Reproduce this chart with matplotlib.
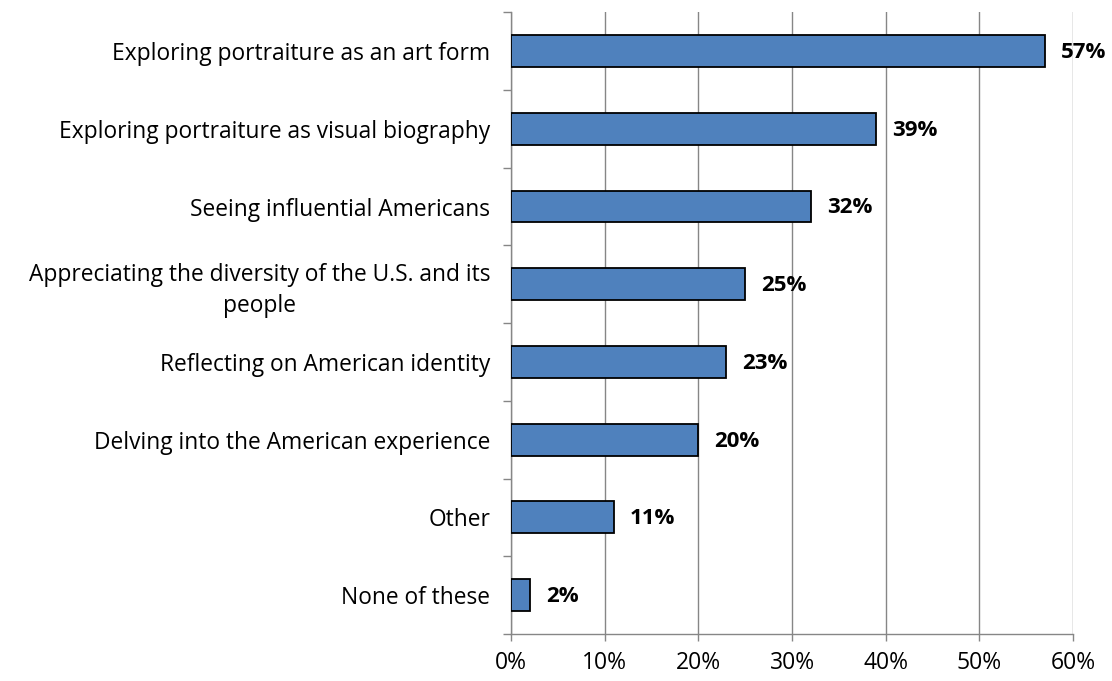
import numpy as np
import matplotlib
matplotlib.use("Agg")
import matplotlib.pyplot as plt
from matplotlib.ticker import FixedLocator

plt.rcParams['font.family'] = ['Open Sans', 'DejaVu Sans']

# data
categories = ["Exploring portraiture as an art form",
              "Exploring portraiture as visual biography",
              "Seeing influential Americans",
              "Appreciating the diversity of the U.S. and its\npeople",
              "Reflecting on American identity",
              "Delving into the American experience",
              "Other",
              "None of these"]
values = [57, 39, 32, 25, 23, 20, 11, 2]
xticks = [0, 10, 20, 30, 40, 50, 60]

fig = plt.figure(figsize=(11.12, 6.81), dpi=100)
ax = fig.add_axes([0.4595, 0.069, 0.5055, 0.913])

grey = "#868686"
y = np.arange(len(categories))
ax.barh(y, values, height=0.41, color="#4F81BD", edgecolor="black", linewidth=1.3, zorder=3)

for yi, v in zip(y, values):
    ax.annotate("%d%%" % v, (v, yi), xytext=(11.5, -1), textcoords="offset points",
                ha="left", va="center", fontsize=16, fontweight="bold", zorder=4)

ax.set_xlim(0, 60)
ax.set_ylim(len(categories) - 0.5, -0.5)
ax.set_xticks(xticks)
ax.set_xticklabels(["%d%%" % t for t in xticks], fontsize=16.5)
ax.set_yticks(y)
ax.set_yticklabels(categories, fontsize=16.4, multialignment="center", linespacing=1.4)
ax.yaxis.set_minor_locator(FixedLocator(np.arange(len(categories) + 1) - 0.5))
ax.tick_params(axis="y", which="major", length=0, pad=15)
ax.tick_params(axis="y", which="minor", length=6, color=grey, width=1)
ax.tick_params(axis="x", length=5, color=grey, width=1, pad=7)

ax.grid(axis="x", color=grey, linewidth=1, zorder=0)
for s in ["top", "right"]:
    ax.spines[s].set_visible(False)
for s in ["left", "bottom"]:
    ax.spines[s].set_color(grey)
    ax.spines[s].set_linewidth(1)

fig.savefig("out.png", dpi=100)
